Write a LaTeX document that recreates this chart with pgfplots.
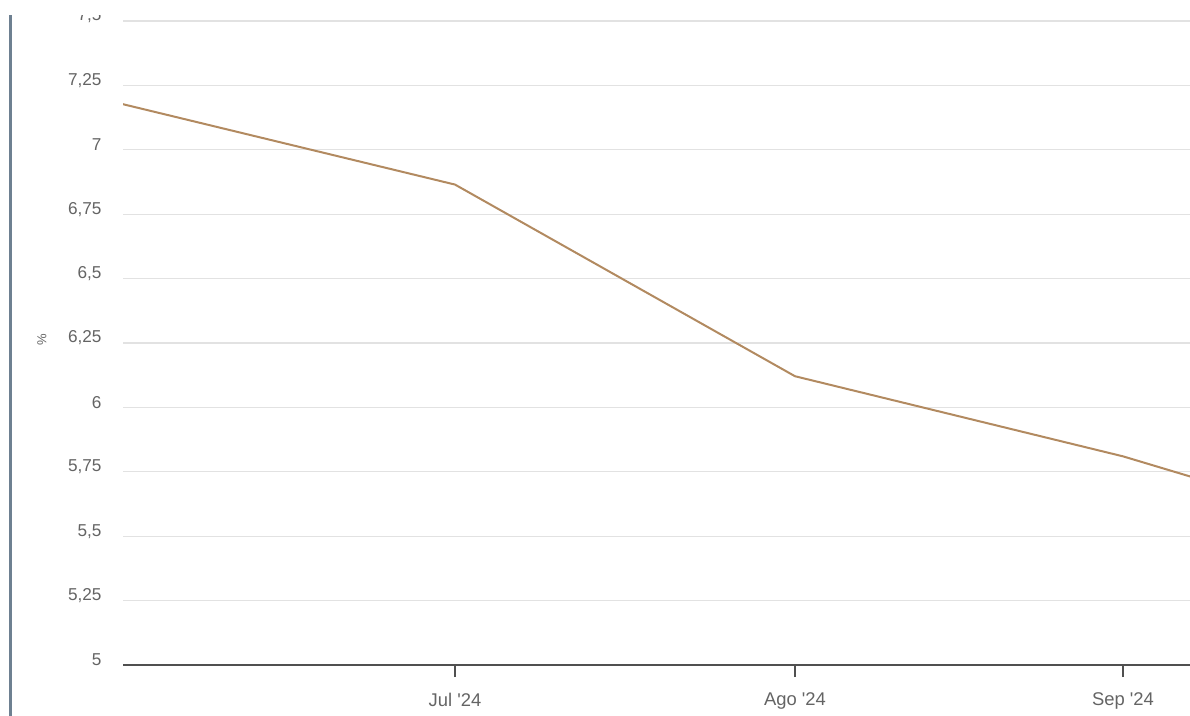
\documentclass[border=0pt]{standalone}
\usepackage{fontspec}
\setmainfont{Liberation Sans}
\usepackage{pgfplots}
\pgfplotsset{compat=1.18}
\definecolor{linebrown}{RGB}{178,138,96}
\definecolor{ticktext}{RGB}{100,100,100}
\definecolor{gridgray}{RGB}{226,226,226}
\definecolor{axisgray}{RGB}{80,80,80}
\definecolor{sidebar}{RGB}{110,128,145}
\begin{document}
\begin{tikzpicture}
% picture is cropped like the screenshot
\path[use as bounding box] (0,0) rectangle (595bp,358bp);
\fill[sidebar] (4.5bp,0) rectangle (6bp,350.5bp);
\begin{axis}[
  at={(61.5bp,25.5bp)}, anchor=south west,
  scale only axis, width=533.5bp, height=322bp,
  xmin=123, xmax=1190, ymin=5, ymax=7.5,
  axis x line*=bottom, axis y line*=left,
  x axis line style={-, draw=axisgray, line width=0.8bp},
  y axis line style={draw=none},
  xtick={455,795,1123},
  xticklabels={Jul \textquotesingle24, Ago \textquotesingle24, Sep \textquotesingle24},
  ytick={5,5.25,5.5,5.75,6,6.25,6.5,6.75,7,7.25,7.5},
  tick align=outside, major tick length=6bp,
  xtick style={draw=axisgray, line width=0.7bp},
  ytick style={draw=none},
  ymajorgrids, grid style={gridgray, line width=0.6bp},
  /pgf/number format/use comma,
  /pgf/number format/assume math mode=true,
  tick label style={font=\fontsize{8.6bp}{10bp}\selectfont, text=ticktext},
  yticklabel style={xshift=-1.2bp, yshift=2.5bp},
  xticklabel style={yshift=-4.5bp, font=\fontsize{9.2bp}{11bp}\selectfont},
  ylabel={\%},
  ylabel style={at={(axis description cs:-0.076,0.505)}, anchor=center,
    font=\fontsize{6.5bp}{8bp}\selectfont, text=ticktext},
  clip=true,
]
\addplot[linebrown, line width=1bp] coordinates {
  (123,7.177) (455,6.865) (795,6.121) (1123,5.81) (1190,5.732)
};
\end{axis}
% white strip at the top of the screenshot
\fill[white] (0,350.5bp) rectangle (595bp,358bp);
\end{tikzpicture}
\end{document}
